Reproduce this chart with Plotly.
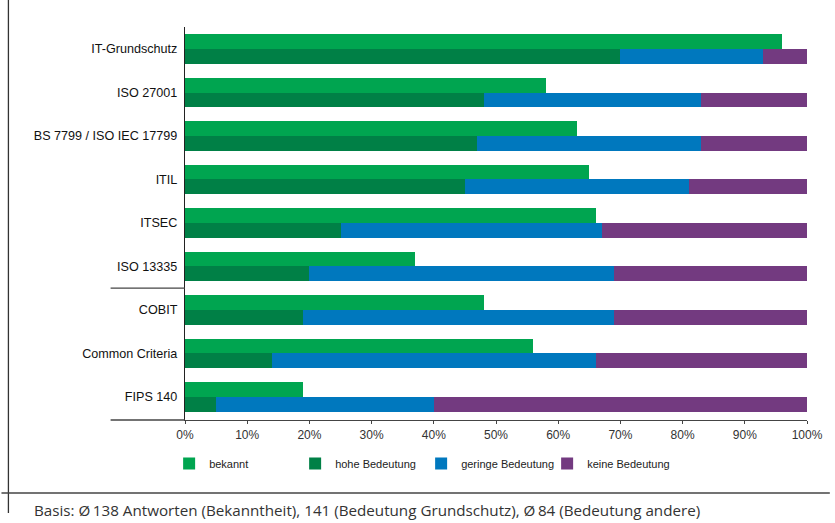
import plotly.graph_objects as go

# Standards / frameworks (top to bottom)
categories = [
    "IT-Grundschutz", "ISO 27001", "BS 7799 / ISO IEC 17799", "ITIL", "ITSEC",
    "ISO 13335", "COBIT", "Common Criteria", "FIPS 140",
]
# Share of respondents (%)
bekannt = [96, 58, 63, 65, 66, 37, 48, 56, 19]
hohe_bedeutung = [70, 48, 47, 45, 25, 20, 19, 14, 5]
geringe_bedeutung = [23, 35, 36, 36, 42, 49, 50, 52, 35]
keine_bedeutung = [7, 17, 17, 19, 33, 31, 31, 34, 60]
x_ticks = [0, 10, 20, 30, 40, 50, 60, 70, 80, 90, 100]
x_tick_labels = [f"{v}%" for v in x_ticks]

C_BEKANNT = "#00A550"
C_HOHE = "#008046"
C_GERINGE = "#0078BE"
C_KEINE = "#733A80"

W, H = 835, 523
L, R, T, B = 185, 23, 27, 103
PW, PH = W - L - R, H - T - B


def px_x(p):
    return (p - L) / PW


def px_y(p):
    return (H - B - p) / PH


idx = list(range(len(categories)))
bar_w = 0.335
pos_top = [i - bar_w / 2 for i in idx]
pos_bot = [i + bar_w / 2 for i in idx]

fig = go.Figure()
fig.add_trace(go.Bar(name="bekannt", y=pos_top, x=bekannt, orientation="h",
                     width=bar_w, marker=dict(color=C_BEKANNT, line=dict(width=0))))
fig.add_trace(go.Bar(name="hohe Bedeutung", y=pos_bot, x=hohe_bedeutung, orientation="h",
                     width=bar_w, marker=dict(color=C_HOHE, line=dict(width=0))))
fig.add_trace(go.Bar(name="geringe Bedeutung", y=pos_bot, x=geringe_bedeutung, orientation="h",
                     width=bar_w, marker=dict(color=C_GERINGE, line=dict(width=0))))
fig.add_trace(go.Bar(name="keine Bedeutung", y=pos_bot, x=keine_bedeutung, orientation="h",
                     width=bar_w, marker=dict(color=C_KEINE, line=dict(width=0))))

shapes = [
    # axis extension to the left and group separator
    dict(type="line", xref="paper", yref="paper", x0=px_x(110), x1=0, y0=0, y1=0,
         line=dict(color="#444", width=1.3)),
    dict(type="line", xref="paper", yref="y", x0=px_x(110), x1=0, y0=5.5, y1=5.5,
         line=dict(color="#444", width=1.3)),
    # frame lines
    dict(type="line", xref="paper", yref="paper", x0=px_x(7), x1=px_x(7),
         y0=px_y(0), y1=px_y(513), line=dict(color="#333", width=1.3)),
    dict(type="line", xref="paper", yref="paper", x0=px_x(0), x1=px_x(835),
         y0=px_y(493), y1=px_y(493), line=dict(color="#444", width=1.5)),
]

annotations = [
    dict(text="Basis: Ø\u2009138 Antworten (Bekanntheit), 141 (Bedeutung Grundschutz), Ø\u200984 (Bedeutung andere)",
         xref="paper", yref="paper", x=px_x(31), y=px_y(510), xanchor="left", yanchor="middle",
         showarrow=False, font=dict(family="Open Sans", size=15.2, color="#333")),
]

fig.update_layout(
    width=W, height=H,
    margin=dict(l=L, r=R, t=T, b=B, pad=0),
    paper_bgcolor="white", plot_bgcolor="white",
    barmode="stack", bargap=0,
    showlegend=True,
    legend=dict(orientation="h", x=px_x(169), y=px_y(449), xanchor="left", yanchor="top",
                entrywidth=81, traceorder="normal", itemclick=False,
                font=dict(family="Liberation Sans", size=11, color="#222"),
                bgcolor="rgba(0,0,0,0)"),
    xaxis=dict(range=[0, 100], tickvals=x_ticks, ticktext=x_tick_labels,
               showgrid=False, zeroline=False, showline=True, linecolor="#444", linewidth=1.3,
               ticks="outside", ticklen=3, tickcolor="#444",
               tickfont=dict(family="Liberation Sans", size=12, color="#333")),
    yaxis=dict(range=[8.53, -0.506], tickvals=idx, ticktext=categories,
               showgrid=False, zeroline=False, showline=True, linecolor="#222", linewidth=1.3,
               ticks="", ticklabelstandoff=4,
               tickfont=dict(family="Liberation Sans", size=12.6, color="#111")),
    shapes=shapes, annotations=annotations,
    font=dict(family="Liberation Sans"),
)

fig.write_html("out.html")
